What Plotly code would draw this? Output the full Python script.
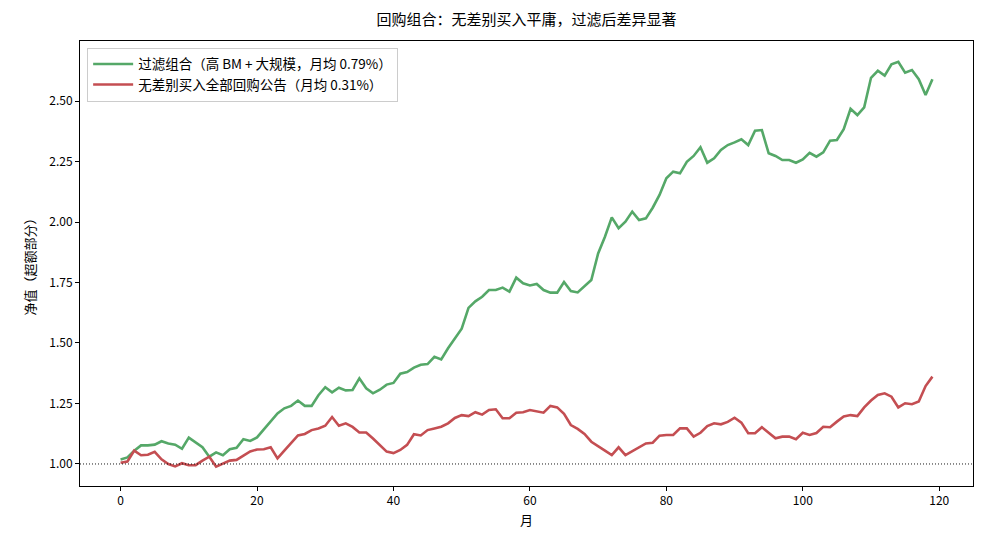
import plotly.graph_objects as go

months = list(range(120))

filtered = [
    1.019, 1.027, 1.055, 1.077, 1.077, 1.080, 1.094, 1.085, 1.080, 1.063,
    1.109, 1.088, 1.069, 1.030, 1.048, 1.036, 1.061, 1.067, 1.102, 1.095,
    1.110, 1.143, 1.178, 1.209, 1.230, 1.240, 1.262, 1.240, 1.240, 1.284,
    1.317, 1.296, 1.315, 1.304, 1.306, 1.354, 1.313, 1.292, 1.307, 1.328,
    1.335, 1.373, 1.380, 1.398, 1.410, 1.413, 1.443, 1.432, 1.478, 1.518,
    1.559, 1.645, 1.672, 1.691, 1.719, 1.719, 1.729, 1.712, 1.770, 1.747,
    1.738, 1.744, 1.719, 1.708, 1.708, 1.752, 1.715, 1.709, 1.733, 1.760,
    1.870, 1.939, 2.019, 1.974, 2.001, 2.043, 2.008, 2.015, 2.059, 2.112,
    2.181, 2.208, 2.201, 2.249, 2.273, 2.309, 2.245, 2.263, 2.298, 2.318,
    2.329, 2.342, 2.318, 2.377, 2.380, 2.284, 2.273, 2.256, 2.256, 2.245,
    2.259, 2.286, 2.270, 2.288, 2.336, 2.339, 2.384, 2.468, 2.442, 2.474,
    2.596, 2.625, 2.605, 2.652, 2.662, 2.617, 2.628, 2.590, 2.525, 2.590,
]

all_ann = [
    1.005, 1.010, 1.055, 1.036, 1.038, 1.050, 1.019, 1.000, 0.990, 1.003,
    0.995, 0.995, 1.014, 1.030, 0.989, 1.000, 1.014, 1.017, 1.033, 1.052,
    1.060, 1.061, 1.069, 1.023, 1.055, 1.087, 1.118, 1.124, 1.140, 1.147,
    1.158, 1.194, 1.158, 1.168, 1.153, 1.130, 1.130, 1.105, 1.079, 1.051,
    1.045, 1.058, 1.079, 1.123, 1.118, 1.140, 1.147, 1.154, 1.168, 1.190,
    1.202, 1.198, 1.214, 1.204, 1.223, 1.226, 1.189, 1.189, 1.212, 1.214,
    1.223, 1.216, 1.212, 1.240, 1.234, 1.207, 1.161, 1.145, 1.124, 1.092,
    1.072, 1.055, 1.037, 1.069, 1.037, 1.054, 1.069, 1.085, 1.088, 1.117,
    1.120, 1.120, 1.147, 1.147, 1.113, 1.129, 1.157, 1.168, 1.164, 1.174,
    1.191, 1.171, 1.127, 1.127, 1.152, 1.127, 1.106, 1.113, 1.113, 1.102,
    1.129, 1.120, 1.128, 1.154, 1.152, 1.175, 1.196, 1.202, 1.198, 1.234,
    1.262, 1.285, 1.292, 1.278, 1.234, 1.251, 1.247, 1.258, 1.322, 1.361,
]

x_ticks = [0, 20, 40, 60, 80, 100, 120]
y_ticks = [1.00, 1.25, 1.50, 1.75, 2.00, 2.25, 2.50]

title_text = "回购组合：无差别买入平庸，过滤后差异显著"
name_filtered = "过滤组合（高 BM + 大规模，月均 0.79%）"
name_all = "无差别买入全部回购公告（月均 0.31%）"
x_label = "月"
y_label = "净值（超额部分）"

FONT = "Noto Sans CJK SC, DejaVu Sans, sans-serif"

fig = go.Figure()
fig.add_trace(go.Scatter(x=months, y=filtered, mode="lines", name=name_filtered,
                         line=dict(color="#55A868", width=2.6)))
fig.add_trace(go.Scatter(x=months, y=all_ann, mode="lines", name=name_all,
                         line=dict(color="#C44E52", width=2.6)))

fig.add_hline(y=1.0, line=dict(color="black", width=0.9, dash="1px,2px"))

axis_common = dict(showline=True, linecolor="black", linewidth=1, mirror=True,
                   ticks="outside", ticklen=4, tickcolor="black", showgrid=False,
                   zeroline=False, tickfont=dict(size=12, color="black", family=FONT))

fig.update_layout(
    width=990, height=550,
    margin=dict(l=80, r=17, t=41, b=64),
    paper_bgcolor="white", plot_bgcolor="white",
    font=dict(family=FONT, color="black"),
    title=dict(text=title_text, x=0.5, xanchor="center", y=0.965, yanchor="middle",
               xref="paper", font=dict(size=15, color="black", family=FONT)),
    xaxis=dict(range=[-5.95, 124.95], tickvals=x_ticks,
               title=dict(text=x_label, font=dict(size=13), standoff=8), **axis_common),
    yaxis=dict(range=[0.909, 2.748], tickvals=y_ticks, tickformat=".2f",
               title=dict(text=y_label, font=dict(size=13), standoff=10), **axis_common),
    legend=dict(x=0.008, y=0.985, xanchor="left", yanchor="top",
                bgcolor="rgba(255,255,255,0.8)", bordercolor="#cccccc", borderwidth=1,
                font=dict(size=13.5, color="black", family=FONT),
                tracegroupgap=2, itemwidth=40),
    showlegend=True,
)

fig.write_html("out.html")
